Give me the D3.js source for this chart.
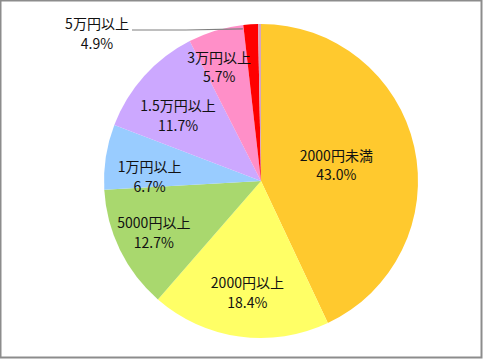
<!DOCTYPE html>
<html lang="ja">
<head>
<meta charset="UTF-8"/>
<title>Pie</title>
<script src="https://d3js.org/d3.v7.min.js"></script>
<style>
  body { margin: 0; background: #fff; }
  svg { display: block; }
  .lbl { font-family: "Noto Sans CJK JP", "Noto Sans", sans-serif; font-size: 14px; fill: #111; }
</style>
</head>
<body>
<div id="chart"></div>
<script>
// data
var categories = ["2000円未満", "2000円以上", "5000円以上", "1万円以上", "1.5万円以上", "3万円以上", "5万円以上", "その他"];
var shares     = [43.0, 18.4, 12.7, 6.7, 11.7, 5.7, 1.5, 0.3];   // slice sizes as drawn
var pctLabels  = ["43.0%", "18.4%", "12.7%", "6.7%", "11.7%", "5.7%", "4.9%", ""];

var colors = ["#FFC92E", "#FFFF66", "#A9D86E", "#99CCFF", "#CCA8FF", "#FF8FC8", "#FF0000", "#D8A4BC"];
// inside label placement: [distance as fraction of radius, angle nudge in degrees]
var labelPos = [[0.49, 1], [0.72, -1], [0.76, 0], [0.71, -7], [0.67, -4], [0.77, -3.5]];

var w = 483, h = 359;
var cx = 261, cy = 181, R = 157;

var svg = d3.select("#chart").append("svg")
    .attr("width", w).attr("height", h);

// frame
svg.append("rect")
    .attr("x", 0.5).attr("y", 0.5)
    .attr("width", w - 2).attr("height", h - 2)
    .attr("fill", "#fff")
    .attr("stroke", "#8c8c8c")
    .attr("stroke-width", 2);

var pie = d3.pie().sort(null).value(function(d){ return d; });
var arcs = pie(shares);

var arc = d3.arc().innerRadius(0).outerRadius(R);

var g = svg.append("g").attr("transform", "translate(" + cx + "," + cy + ")");

g.selectAll("path.slice")
    .data(arcs)
    .enter().append("path")
    .attr("class", "slice")
    .attr("d", arc)
    .attr("fill", function(d, i){ return colors[i]; });

// inside labels
arcs.forEach(function(a, i) {
    if (i >= labelPos.length) return;
    var mid = (a.startAngle + a.endAngle) / 2 + labelPos[i][1] * Math.PI / 180;
    var r = labelPos[i][0] * R;
    var x = Math.sin(mid) * r, y = -Math.cos(mid) * r;
    var t = g.append("text").attr("class", "lbl").attr("text-anchor", "middle");
    t.append("tspan").attr("x", x).attr("y", y - 5).text(categories[i]);
    t.append("tspan").attr("x", x).attr("y", y + 14.5).text(pctLabels[i]);
});

// outside label for the small red slice, with leader line
var red = arcs[6];
var ex = Math.sin(red.startAngle + 0.01) * R, ey = -Math.cos(red.startAngle + 0.01) * R + 4;
g.append("polyline")
    .attr("points", [[-129, -151], [-75, -151], [ex - 2, ey]].map(function(p){ return p.join(","); }).join(" "))
    .attr("fill", "none")
    .attr("stroke", "#7f7f7f")
    .attr("stroke-width", 1.2);

var o = g.append("text").attr("class", "lbl").attr("text-anchor", "middle");
o.append("tspan").attr("x", -164).attr("y", -152).text(categories[6]);
o.append("tspan").attr("x", -164).attr("y", -132).text(pctLabels[6]);
</script>
</body>
</html>
